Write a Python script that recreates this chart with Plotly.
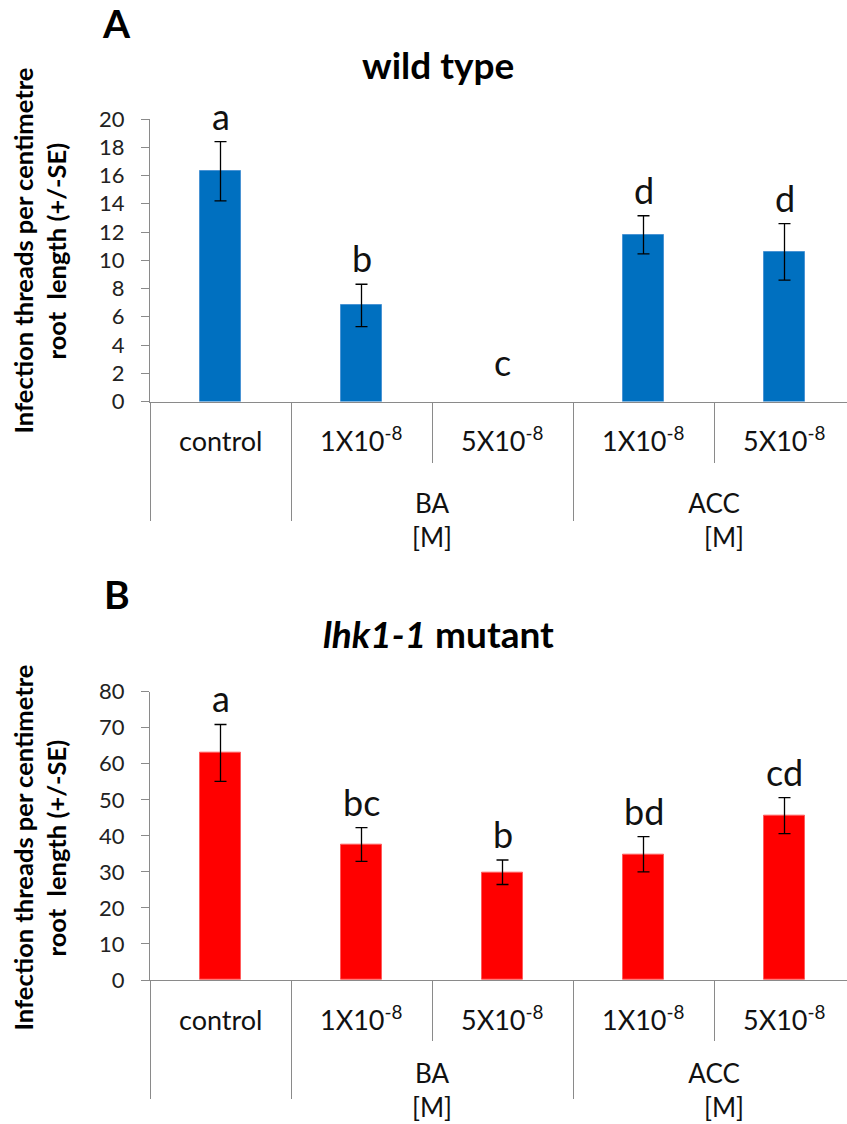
import plotly.graph_objects as go

W, H = 847, 1124

# ---- data -------------------------------------------------------------
categories = ["control", "1X10<sup>-8</sup>", "5X10<sup>-8</sup>",
              "1X10<sup>-8</sup>", "5X10<sup>-8</sup>"]
group_names = ["BA", "ACC"]
group_unit = "[M]"

wt_mean = [16.3, 6.8, 0.0, 11.8, 10.6]
wt_se = [2.1, 1.5, 0.0, 1.35, 2.0]
wt_letters = ["a", "b", "c", "d", "d"]

mut_mean = [63.0, 37.6, 29.9, 34.9, 45.6]
mut_se = [7.9, 4.7, 3.4, 4.9, 5.0]
mut_letters = ["a", "bc", "b", "bd", "cd"]

# ---- styling ----------------------------------------------------------
FONT = "Lato"
AXIS_GRAY = "#8a8a8a"
TXT = "#111111"
BLUE = "#0070C0"
RED = "#FF0000"

PLOT_LEFT = 150          # px
CAT_PX = 141             # px per category slot
X_RANGE = [-0.5, -0.5 + (W - PLOT_LEFT) / CAT_PX]
GROUP_FONT = 26


def px(x):
    return x / W


def py(y):
    return 1 - y / H


def text(x, y, s, size, xref="paper", yref="paper", xanchor="center",
         yanchor="middle", color=TXT, **kw):
    return dict(x=x, y=y, xref=xref, yref=yref, text=s, showarrow=False,
                xanchor=xanchor, yanchor=yanchor,
                font=dict(family=FONT, size=size, color=color), **kw)


panels = [
    dict(mean=wt_mean, se=wt_se, letters=wt_letters, color=BLUE, edge="#4a94d4",
         top=119, bottom=401.5, ymax=20, dtick=2, xa="x", ya="y",
         tag="A", title="<b>wild type</b>", title_y=64, tag_y=23, ytitle_c=251),
    dict(mean=mut_mean, se=mut_se, letters=mut_letters, color=RED, edge="#ff5c5c",
         top=691.7, bottom=980, ymax=80, dtick=10, xa="x2", ya="y2",
         tag="B", title="<b><i>lhk1-1</i> mutant</b>", title_y=633, tag_y=594,
         ytitle_c=848),
]

fig = go.Figure()
annotations = []
x_idx = list(range(len(categories)))

for k, p in enumerate(panels):
    fig.add_trace(go.Bar(
        x=x_idx, y=p["mean"], width=0.284,
        marker=dict(color=p["color"],
                    line=dict(color=p["edge"],
                              width=[1 if v > 0 else 0 for v in p["mean"]])),
        xaxis=p["xa"], yaxis=p["ya"], showlegend=False,
    ))
    # error bars only where an SE exists
    ex = [i for i in x_idx if p["se"][i] > 0]
    fig.add_trace(go.Scatter(
        x=ex, y=[p["mean"][i] for i in ex], mode="markers",
        marker=dict(size=1, color="rgba(0,0,0,0)"),
        error_y=dict(type="data", array=[p["se"][i] for i in ex],
                     color="#000000", thickness=1.3, width=6),
        xaxis=p["xa"], yaxis=p["ya"], showlegend=False, hoverinfo="skip",
    ))

    # significance letters above the error bars
    for i in x_idx:
        top_val = p["mean"][i] + p["se"][i]
        annotations.append(text(i, top_val, p["letters"][i], 36,
                                xref=p["xa"], yref=p["ya"], yanchor="bottom",
                                yshift=2 if top_val > 0 else 15))

    # category labels under the axis
    for i in x_idx:
        annotations.append(text(i, py(p["bottom"] + 57.5), categories[i], 27,
                                xref=p["xa"], yanchor="bottom"))

    # treatment group labels (name over unit), kept inside the page
    group_c = min(p["bottom"] + 118.5, H - 1.25 * GROUP_FONT - 2)
    for g, name in enumerate(group_names):
        members = [1 + 2 * g, 2 + 2 * g]
        cx = sum(members) / 2
        unit = ("&nbsp;" * 3 * g) + group_unit
        annotations.append(text(cx, py(group_c), "%s<br>%s" % (name, unit),
                                GROUP_FONT, xref=p["xa"], yanchor="middle"))

    # panel tag and title
    annotations.append(text(px(117), py(p["tag_y"]), "<b>%s</b>" % p["tag"],
                            39, color="#000000"))
    annotations.append(text(px(438), py(p["title_y"]), p["title"], 37,
                            color="#000000"))

    # y-axis title (two lines)
    for line, xc in (("Infection threads per centimetre", 22.5),
                     ("root&nbsp; length (+/-SE)", 55.5)):
        annotations.append(text(px(xc), py(p["ytitle_c"]), "<b>%s</b>" % line,
                                25.5, color="#000000", textangle=-90))

    sfx = "" if k == 0 else "2"
    fig.layout["xaxis" + sfx] = dict(
        domain=[px(PLOT_LEFT), 1], range=X_RANGE, anchor="y" + sfx,
        showline=True, linecolor=AXIS_GRAY, linewidth=1.3,
        tickmode="array", tickvals=[-0.5, 0.5, 2.5], ticks="outside",
        ticklen=118, tickwidth=1.3, tickcolor=AXIS_GRAY,
        minor=dict(tickmode="array", tickvals=[1.5, 3.5], ticks="outside",
                   ticklen=60, tickwidth=1.3, tickcolor=AXIS_GRAY),
        showticklabels=False, showgrid=False, zeroline=False, fixedrange=True,
        automargin=False,
    )
    fig.layout["yaxis" + sfx] = dict(
        domain=[py(p["bottom"]), py(p["top"])], range=[0, p["ymax"]],
        anchor="x" + sfx, dtick=p["dtick"], tick0=0,
        showline=True, linecolor=AXIS_GRAY, linewidth=1.3,
        ticks="outside", ticklen=8, tickwidth=1.3, tickcolor=AXIS_GRAY,
        ticklabelstandoff=12,
        tickfont=dict(family=FONT, size=22, color="#222222"),
        showgrid=False, zeroline=False, fixedrange=True, automargin=False,
    )

fig.update_layout(
    width=W, height=H, margin=dict(l=0, r=0, t=0, b=0, autoexpand=False),
    paper_bgcolor="white", plot_bgcolor="white",
    bargap=0, annotations=annotations, showlegend=False,
    font=dict(family=FONT, color=TXT),
)

fig.write_html("out.html", config={"displayModeBar": False})
